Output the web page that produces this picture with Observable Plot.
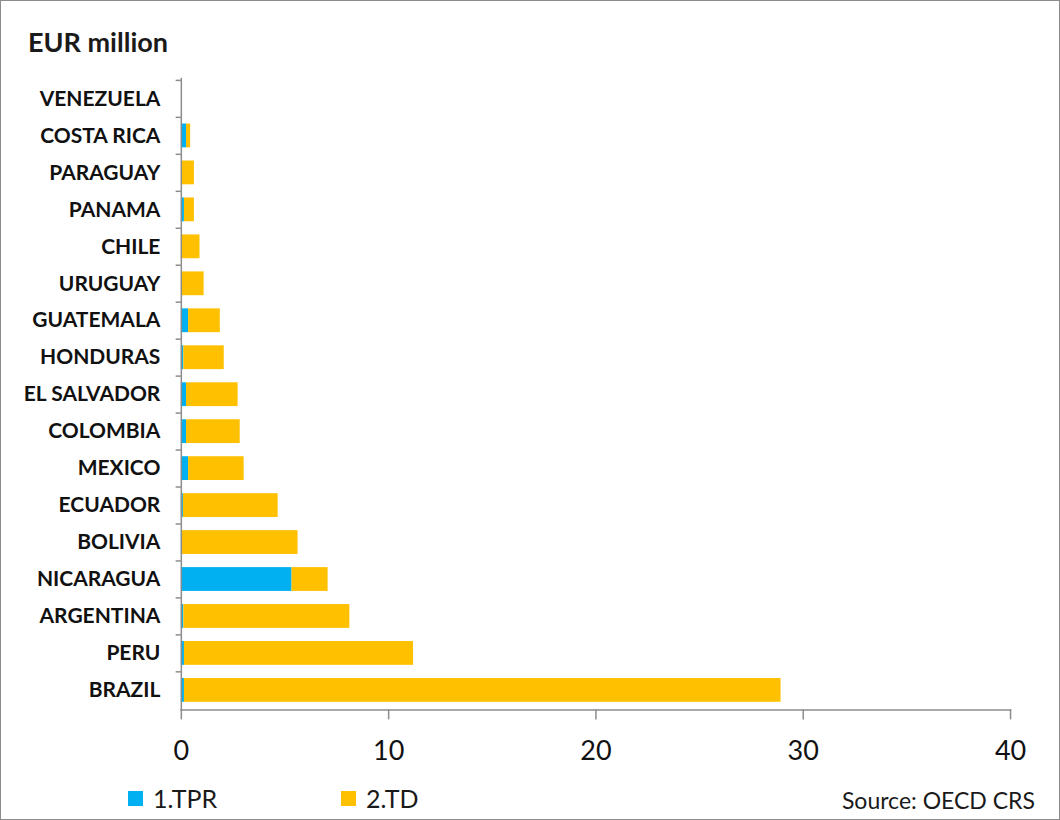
<!DOCTYPE html>
<html>
<head>
<meta charset="utf-8">
<script src="https://cdn.jsdelivr.net/npm/d3@7"></script>
<script src="https://cdn.jsdelivr.net/npm/@observablehq/plot@0.6"></script>
<style>
  html, body { margin: 0; padding: 0; background: #fff; }
  #wrap { position: relative; width: 1060px; height: 820px; box-sizing: border-box; border: 1px solid #8c8c8c; font-family: Lato, "Liberation Sans", sans-serif; overflow: hidden; }
  #title { position: absolute; left: 27px; top: 27px; font-size: 27px; line-height: 1; font-weight: bold; color: #1a1a1a; }
  #chart { position: absolute; left: -1px; top: 69px; }
  .leg { position: absolute; top: 785px; font-size: 25px; line-height: 1; color: #1a1a1a; display: flex; align-items: center; }
  .sw { display: inline-block; width: 15px; height: 15px; margin-right: 10px; }
  #src { position: absolute; right: 24px; top: 788px; font-size: 23px; line-height: 1; color: #1a1a1a; }
  svg text { fill: #111; }
</style>
</head>
<body>
<div id="wrap">
  <div id="title">EUR million</div>
  <div id="chart"></div>
  <div class="leg" style="left:127px"><span class="sw" style="background:#00B0F0"></span>1.TPR</div>
  <div class="leg" style="left:340px"><span class="sw" style="background:#FFC000"></span>2.TD</div>
  <div id="src">Source: OECD CRS</div>
</div>
<script>
const countries = ["VENEZUELA","COSTA RICA","PARAGUAY","PANAMA","CHILE","URUGUAY","GUATEMALA","HONDURAS","EL SALVADOR","COLOMBIA","MEXICO","ECUADOR","BOLIVIA","NICARAGUA","ARGENTINA","PERU","BRAZIL"];
const tpr = [0, 0.25, 0, 0.15, 0, 0, 0.35, 0.12, 0.25, 0.25, 0.35, 0.1, 0.02, 5.34, 0.12, 0.15, 0.15];
const td  = [0, 0.2, 0.63, 0.48, 0.9, 1.1, 1.53, 1.95, 2.49, 2.59, 2.68, 4.57, 5.61, 1.74, 8.01, 11.05, 28.78];
const series = ["1.TPR", "2.TD"];
const colors = ["#00B0F0", "#FFC000"];
const xTicks = [0, 10, 20, 30, 40];

const data = [];
countries.forEach((c, i) => {
  data.push({country: c, series: series[0], value: tpr[i]});
  data.push({country: c, series: series[1], value: td[i]});
});

const plotTop = 77, plotBottom = 709;
const bandStep = (plotBottom - plotTop) / countries.length;
const inset = (bandStep - 24) / 2;

const plot = Plot.plot({
  width: 1060,
  height: 700,
  marginLeft: 181,
  marginRight: 49,
  marginTop: plotTop - 69,
  marginBottom: 700 - (plotBottom - 69),
  style: {fontFamily: "Lato, 'Liberation Sans', sans-serif", background: "transparent"},
  x: {domain: [0, 40], ticks: xTicks, label: null},
  y: {domain: countries, label: null, padding: 0},
  color: {domain: series, range: colors},
  marks: [
    Plot.barX(data, Plot.stackX({
      y: "country", x: "value", fill: "series", order: series,
      insetTop: inset, insetBottom: inset,
      style: {filter: "drop-shadow(2px 2px 1.5px rgba(0,0,0,0.3))"}
    })),
    Plot.ruleY(countries, {y: d => d, x1: -0.25, x2: 0, dy: -bandStep / 2, stroke: "#8c8c8c", strokeWidth: 1.5}),
    Plot.frame({anchor: "left", stroke: "#8c8c8c", strokeWidth: 1.5}),
    Plot.frame({anchor: "bottom", stroke: "#8c8c8c", strokeWidth: 1.5}),
    Plot.axisY({tickSize: 0, tickPadding: 21, fontSize: 21, fontWeight: "bold"}),
    Plot.axisX(xTicks, {tickSize: 10, tickPadding: 21, fontSize: 27, stroke: "#8c8c8c", strokeWidth: 1.5})
  ]
});
document.getElementById("chart").appendChild(plot);
</script>
</body>
</html>
